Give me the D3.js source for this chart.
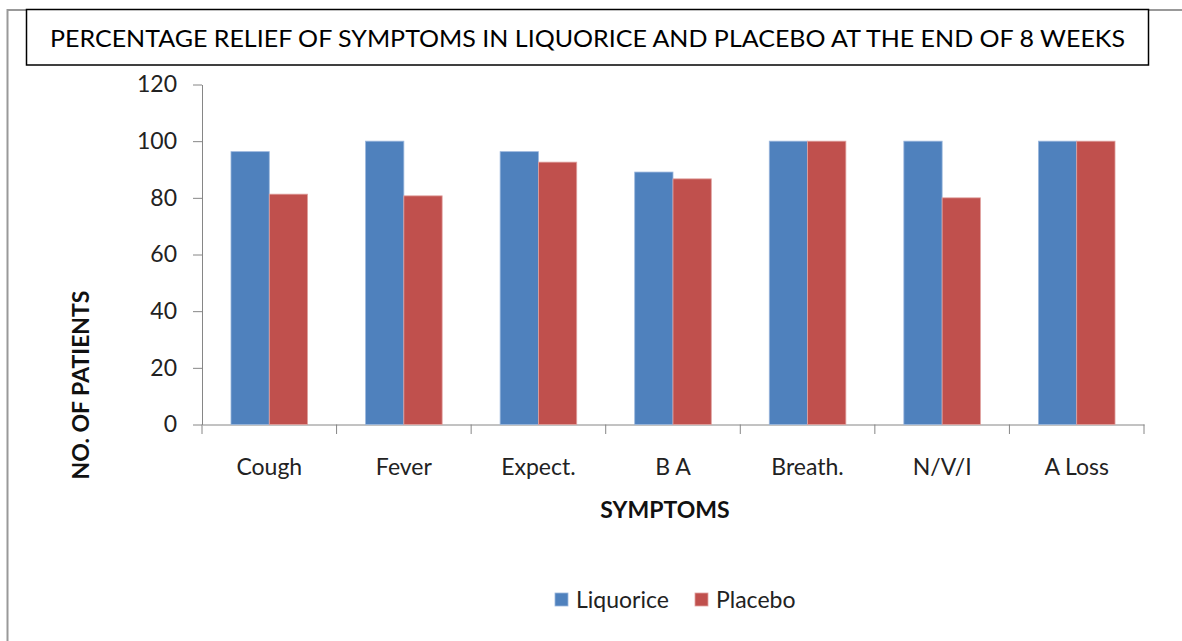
<!DOCTYPE html>
<html><head><meta charset="utf-8">
<script src="https://cdn.jsdelivr.net/npm/d3@7"></script>
<style>body{margin:0;background:#fff;}svg{display:block;}</style>
</head><body>
<svg id="c" width="1182" height="641"></svg>
<script>
const categories = ["Cough","Fever","Expect.","B A","Breath.","N/V/I","A Loss"];
const liquorice = [96.3, 100, 96.3, 89.1, 100, 100, 100];
const placebo   = [81.3, 80.7, 92.6, 86.7, 100, 80.0, 100];
const seriesNames = ["Liquorice","Placebo"];
const yTicks = [0,20,40,60,80,100,120];
const colors = ["#4F81BD","#C0504D"];
const strokes = ["#9BB7DD","#E0A2A0"];

const svg = d3.select("#c");
const font = "Lato, 'Open Sans', sans-serif";

// outer frame
svg.append("path").attr("d","M7.5,641 V10 H1182").attr("fill","none").attr("stroke","#999").attr("stroke-width",2);

// title box
svg.append("rect").attr("x",26.5).attr("y",9.5).attr("width",1122).attr("height",55.5)
  .attr("fill","#fff").attr("stroke","#000").attr("stroke-width",1.5);
svg.append("text").attr("x",587.5).attr("y",47).attr("text-anchor","middle")
  .attr("font-family",font).attr("font-size",24).attr("fill","#000")
  .attr("textLength",1075).attr("lengthAdjust","spacingAndGlyphs")
  .text("PERCENTAGE RELIEF OF SYMPTOMS IN LIQUORICE AND PLACEBO AT THE END OF 8 WEEKS");

const x0 = d3.scaleBand().domain(categories).range([202,1144]).paddingInner(0).paddingOuter(0);
const barW = 38.3;
const x1 = d3.scaleBand().domain(seriesNames).range([0, 2*barW]);
const y = d3.scaleLinear().domain([0,120]).range([424.5,84.5]);

// y axis
const yAxis = svg.append("g").attr("transform","translate(202,0)")
  .call(d3.axisLeft(y).tickValues(yTicks).tickSize(9).tickPadding(16).tickSizeOuter(0));
yAxis.select(".domain").attr("stroke","#868686");
yAxis.selectAll(".tick line").attr("stroke","#868686");
yAxis.selectAll(".tick text").attr("font-family",font).attr("font-size",23).attr("fill","#222");

// x axis
const xAxis = svg.append("g").attr("transform","translate(0,424.5)")
  .call(d3.axisBottom(x0).tickSize(0).tickPadding(34).tickSizeOuter(0));
xAxis.select(".domain").attr("stroke","#868686");
xAxis.selectAll(".tick text").attr("font-family",font).attr("font-size",23).attr("fill","#222");
const bounds = categories.map(c=>x0(c)).concat([x0.range()[1]]);
svg.append("g").selectAll("line").data(bounds).join("line")
  .attr("x1",d=>d).attr("x2",d=>d).attr("y1",424.5).attr("y2",434).attr("stroke","#868686");

// bars
const data = categories.map((c,i)=>({c, vals:[liquorice[i], placebo[i]]}));
const g = svg.append("g");
data.forEach(d=>{
  const off = x0(d.c) + (x0.bandwidth() - 2*barW)/2;
  d.vals.forEach((v,j)=>{
    g.append("rect").attr("x",off + x1(seriesNames[j])).attr("y",y(v))
      .attr("width",barW).attr("height",y(0)-y(v))
      .attr("fill",colors[j]).attr("stroke",strokes[j]).attr("stroke-width",0.8);
  });
});

// axis titles
svg.append("text").attr("transform","translate(89,385) rotate(-90)").attr("text-anchor","middle")
  .attr("font-family",font).attr("font-size",23).attr("font-weight","bold").attr("fill","#111")
  .text("NO. OF PATIENTS");
svg.append("text").attr("x",665).attr("y",518).attr("text-anchor","middle")
  .attr("font-family",font).attr("font-size",23).attr("font-weight","bold").attr("fill","#111")
  .text("SYMPTOMS");

// legend
const legX = [555, 695];
seriesNames.forEach((s,i)=>{
  svg.append("rect").attr("x",legX[i]).attr("y",593).attr("width",13).attr("height",13)
    .attr("fill",colors[i]).attr("stroke",strokes[i]).attr("stroke-width",0.8);
  svg.append("text").attr("x",legX[i]+21).attr("y",608).attr("font-family",font)
    .attr("font-size",23).attr("fill","#222").text(s);
});
</script>
</body></html>
